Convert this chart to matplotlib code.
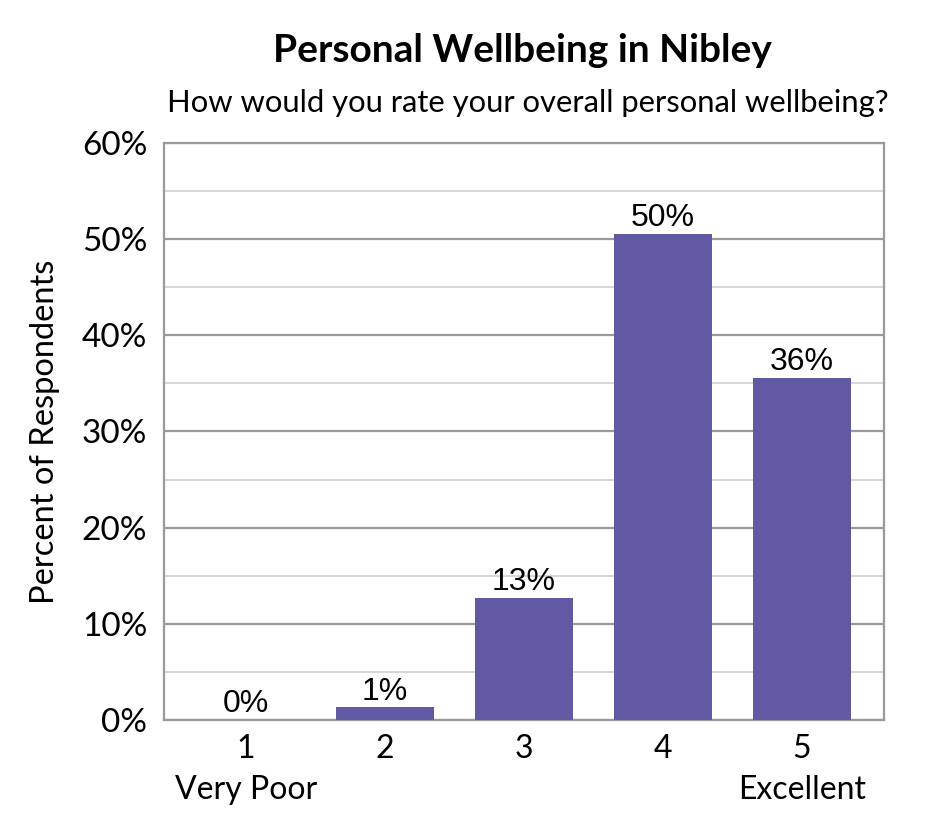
import numpy as np
import matplotlib.pyplot as plt
from matplotlib.ticker import MultipleLocator, FuncFormatter

categories = ["1\nVery Poor", "2", "3", "4", "5\nExcellent"]
percents = [0.0, 1.3, 12.7, 50.5, 35.6]
labels = ["0%", "1%", "13%", "50%", "36%"]

bar_color = "#6159A4"

fig = plt.figure(figsize=(9.45, 8.4), dpi=100)
ax = fig.add_axes([0.1735, 0.1429, 0.7619, 0.6869])

x = np.arange(len(categories))
bars = ax.bar(x, percents, width=0.70, color=bar_color, zorder=3)

for b, lab in zip(bars, labels):
    ax.text(b.get_x() + b.get_width() / 2, b.get_height() + 0.1, lab,
            ha="center", va="bottom", fontsize=23, family="Liberation Sans", zorder=4)

ax.set_xlim(-0.59, 4.59)
ax.set_ylim(0, 60)
ax.yaxis.set_major_locator(MultipleLocator(10))
ax.yaxis.set_minor_locator(MultipleLocator(5))
ax.yaxis.set_major_formatter(FuncFormatter(lambda v, p: f"{v:.0f}%"))
ax.grid(axis="y", which="major", color="#9a9a9a", linewidth=1.6, zorder=0)
ax.grid(axis="y", which="minor", color="#d0d0d0", linewidth=1.2, zorder=0)
ax.set_axisbelow(True)

ax.set_xticks(x)
ax.set_xticklabels(categories, fontsize=23, family="Lato", linespacing=1.45)
for t in ax.get_yticklabels():
    t.set_fontsize(24)
    t.set_family("Lato")
ax.tick_params(axis="both", which="both", length=0)
ax.tick_params(axis="y", pad=12)
ax.tick_params(axis="x", pad=10)

for s in ax.spines.values():
    s.set_color("#9a9a9a")
    s.set_linewidth(1.6)

ax.set_ylabel("Percent of Respondents", fontsize=23.5, family="Lato", labelpad=16)

fig.text(0.553, 0.94, "Personal Wellbeing in Nibley", ha="center", va="center",
         fontsize=28, fontweight="bold", family="Lato")
fig.text(0.559, 0.877, "How would you rate your overall personal wellbeing?",
         ha="center", va="center", fontsize=22.3, family="Lato")

fig.savefig("out.png", dpi=100)
